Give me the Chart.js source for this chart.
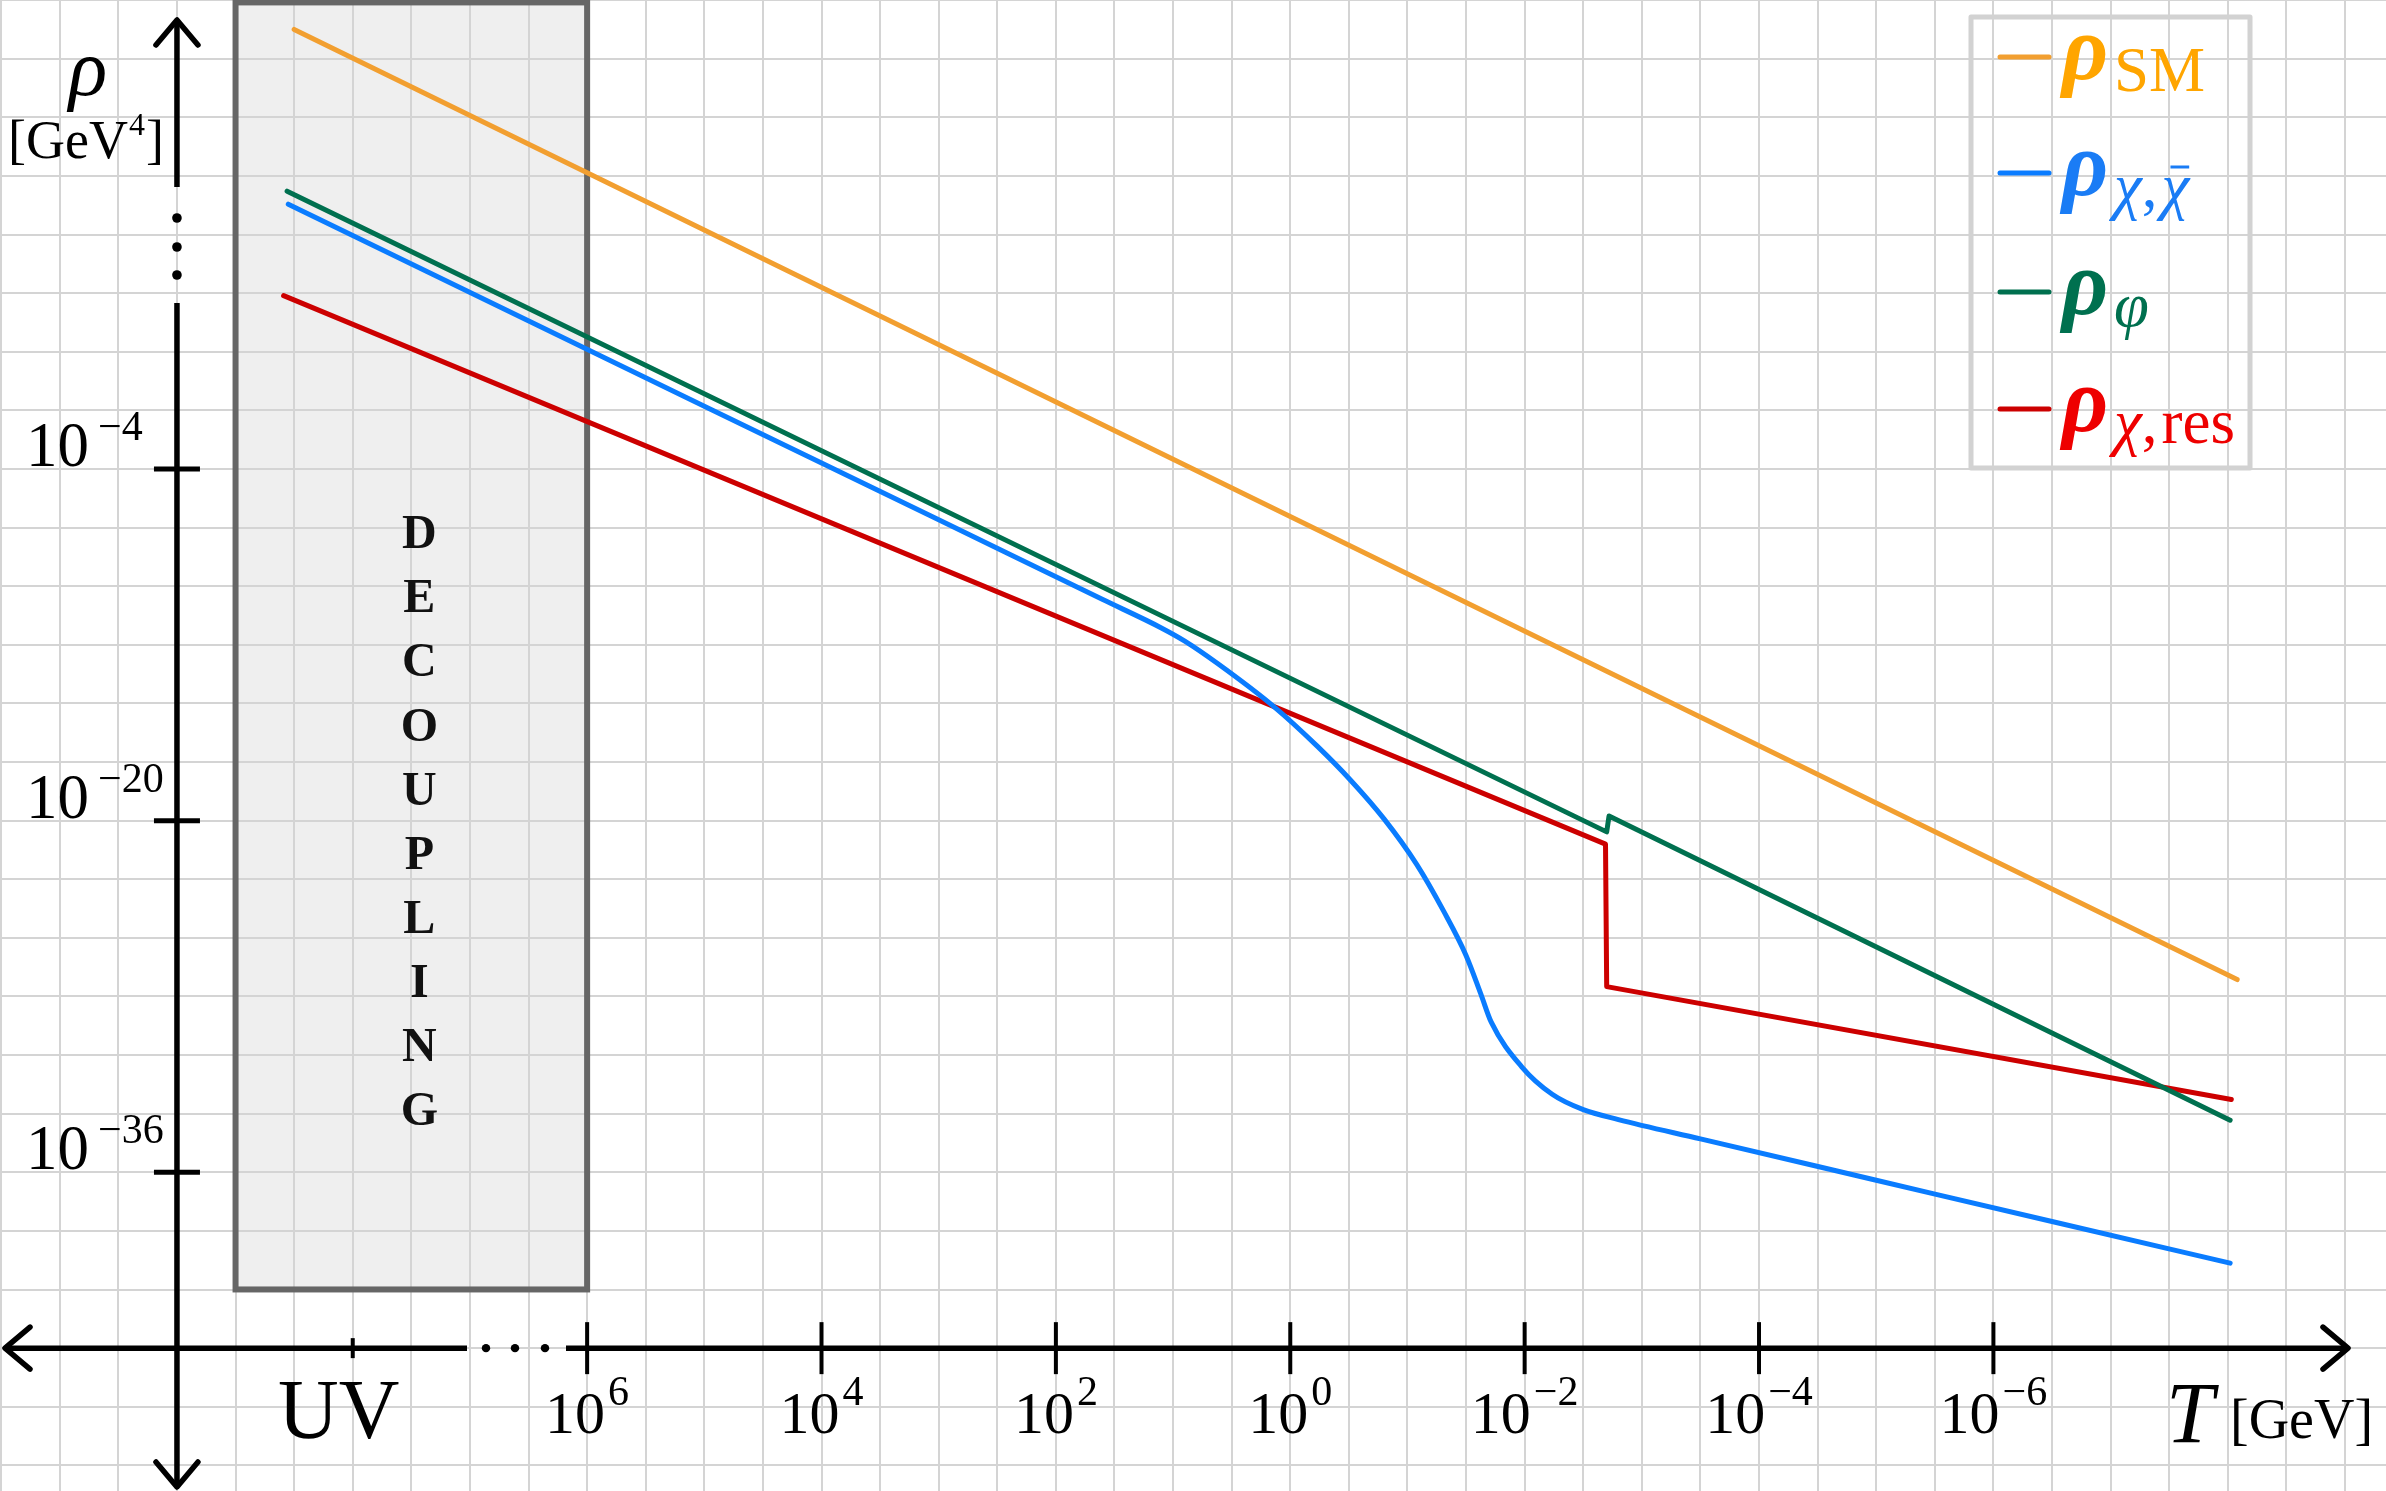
<!DOCTYPE html>
<html>
<head>
<meta charset="utf-8">
<script src="https://cdn.jsdelivr.net/npm/chart.js@4.4.1/dist/chart.umd.min.js"></script>
<style>
  html, body { margin: 0; padding: 0; background: #fff; }
  canvas { display: block; }
</style>
</head>
<body>
<canvas id="rho" width="2386" height="1491"></canvas>
<script>
// values are log10(T / GeV) and log10(rho / GeV^4)
const smT = [8.5, -8.08];
const smRho = [16.0, -27.23];

const chiT = [8.55, 5, 3, 1.6, 1.1, 0.9, 0.62, 0.14, -0.23, -0.515, -0.8, -1.08, -1.31, -1.5, -1.625, -1.715, -1.975, -2.235, -2.5, -2.8, -3.5, -5, -6.5, -8.02];
const chiRho = [8.05, -1.14, -6.31, -9.94, -11.23, -11.83, -12.85, -14.81, -16.61, -18.16, -19.92, -22.0, -24.13, -26.13, -27.87, -29.17, -31.2, -32.45, -33.15, -33.6, -34.48, -36.36, -38.24, -40.13];

const phiT = [8.56, -2.7, -2.72, -8.02];
const phiRho = [8.64, -20.51, -19.79, -33.63];

const resT = [8.59, -2.69, -2.7, -8.03];
const resRho = [3.89, -21.07, -27.55, -32.69];

const xTicks = [6, 4, 2, 0, -2, -4, -6];
const yTicks = [-4, -20, -36];
const uvT = 8;

// decoupling band and axis origin
const boxT = [9.0, 6.0];
const boxRho = [-41.33, 17.23];
const axisT = 9.5;
const axisRho = -44;

const seriesLabels = ["ρ_SM", "ρ_χ,χ̄", "ρ_φ", "ρ_χ,res"];
// subscript pieces: [text, style] with i = italic, b = bar over it
const legendSubs = [
  [["SM", ""]],
  [["χ", "i"], [",", ""], ["χ", "ib"]],
  [["φ", "i"]],
  [["χ", "i"], [",", ""], ["res", ""]],
];
const lineColors = ["#f29f30", "#0a7cff", "#00704f", "#cc0000"];
const textColors = ["#ffa500", "#1a7cf5", "#00704f", "#ee0000"];

const gridX = [];
for (let v = -9; v <= 11; v += 0.5) gridX.push(v);
const gridY = [];
for (let k = -2; k <= 23; k++) gridY.push(axisRho + k * 8 / 3);

const pts = (xs, ys) => xs.map((v, i) => ({ x: v, y: ys[i] }));
const SERIF = '"Liberation Serif", "DejaVu Serif", serif';

function seg(ctx, x1, y1, x2, y2) {
  ctx.beginPath(); ctx.moveTo(x1, y1); ctx.lineTo(x2, y2); ctx.stroke();
}
function dot(ctx, x, y, r) {
  ctx.beginPath(); ctx.arc(x, y, r, 0, Math.PI * 2); ctx.fill();
}
function arrow(ctx, tx, ty, dx, dy) {
  const len = 25, half = 21;
  ctx.beginPath();
  ctx.moveTo(tx - dx * len - dy * half, ty - dy * len + dx * half);
  ctx.lineTo(tx, ty);
  ctx.lineTo(tx - dx * len + dy * half, ty - dy * len - dx * half);
  ctx.stroke();
}
function pow10(ctx, exp, x, base, big, small, rise, gap, centered) {
  ctx.font = big + 'px ' + SERIF;
  const w1 = ctx.measureText('10').width;
  ctx.font = small + 'px ' + SERIF;
  const w2 = ctx.measureText(exp).width;
  const left = centered ? x - (w1 + gap + w2) / 2 : x;
  ctx.font = big + 'px ' + SERIF;
  ctx.fillText('10', left, base);
  ctx.font = small + 'px ' + SERIF;
  ctx.fillText(exp, left + w1 + gap, base - rise);
}

const sketch = {
  id: 'sketch',
  beforeDraw(chart) {
    const { ctx, scales: { x, y } } = chart;
    const l = x.getPixelForValue(boxT[0]), r = x.getPixelForValue(boxT[1]);
    const t = y.getPixelForValue(boxRho[1]), b = y.getPixelForValue(boxRho[0]);
    ctx.save();
    ctx.fillStyle = '#efefef';
    ctx.fillRect(l, t, r - l, b - t);
    ctx.restore();
  },
  beforeDatasetsDraw(chart) {
    const { ctx, scales: { x, y } } = chart;
    const l = x.getPixelForValue(boxT[0]), r = x.getPixelForValue(boxT[1]);
    const t = y.getPixelForValue(boxRho[1]), b = y.getPixelForValue(boxRho[0]);
    ctx.save();
    ctx.strokeStyle = '#666';
    ctx.lineWidth = 6;
    ctx.strokeRect(l, t, r - l, b - t);

    // DECOUPLING, letter by letter, centred on the 10^-20 level
    const word = 'DECOUPLING';
    const cx = (l + r) / 2 + 8;
    const cy = y.getPixelForValue(-20);
    const step = 64.1;
    ctx.fillStyle = '#111';
    ctx.font = 'bold 48px ' + SERIF;
    ctx.textAlign = 'center';
    ctx.textBaseline = 'alphabetic';
    for (let i = 0; i < word.length; i++) {
      const my = cy + (i - (word.length - 1) / 2) * step;
      ctx.fillText(word[i], cx, my + 16);
    }
    ctx.restore();
  },
  afterDatasetsDraw(chart) {
    const { ctx, scales: { x, y } } = chart;
    const W = chart.width, H = chart.height;
    const ox = x.getPixelForValue(axisT), oy = y.getPixelForValue(axisRho);
    ctx.save();
    ctx.strokeStyle = '#000';
    ctx.fillStyle = '#000';
    ctx.lineWidth = 5.5;
    ctx.lineCap = 'butt';

    // vertical axis with a break
    seg(ctx, ox, 22, ox, 187);
    seg(ctx, ox, 303, ox, H - 5);
    [218, 247, 275].forEach(v => dot(ctx, ox, v, 4.8));
    // horizontal axis with a break
    seg(ctx, 6, oy, 467, oy);
    seg(ctx, 566, oy, W - 40, oy);
    [486, 515, 545].forEach(v => dot(ctx, v, oy, 4.2));

    ctx.lineCap = 'round';
    ctx.lineJoin = 'round';
    arrow(ctx, ox, 20, 0, -1);
    arrow(ctx, ox, H - 4, 0, 1);
    arrow(ctx, 5, oy, -1, 0);
    arrow(ctx, W - 38, oy, 1, 0);

    // ticks
    ctx.lineCap = 'butt';
    ctx.lineWidth = 4;
    xTicks.forEach(v => {
      const px = x.getPixelForValue(v);
      seg(ctx, px, oy - 26, px, oy + 26);
    });
    const uvx = x.getPixelForValue(uvT);
    seg(ctx, uvx, oy - 10, uvx, oy + 10);
    ctx.lineWidth = 5;
    yTicks.forEach(v => {
      const py = y.getPixelForValue(v);
      seg(ctx, ox - 23, py, ox + 23, py);
    });

    // tick labels
    ctx.textBaseline = 'alphabetic';
    ctx.textAlign = 'left';
    xTicks.forEach(v => {
      const e = (v < 0 ? '−' : '') + Math.abs(v);
      pow10(ctx, e, x.getPixelForValue(v), oy + 85, 60, 42, 28, 3, true);
    });
    yTicks.forEach(v => {
      const e = '−' + Math.abs(v);
      pow10(ctx, e, 26, y.getPixelForValue(v) - 3, 63, 42, 26, 9, false);
    });
    ctx.textAlign = 'center';
    ctx.font = '84px ' + SERIF;
    ctx.fillText('UV', uvx - 14, oy + 90);

    // axis titles
    ctx.font = 'italic 80px ' + SERIF;
    ctx.fillText('ρ', 88, 95);
    ctx.textAlign = 'left';
    ctx.font = '54px ' + SERIF;
    const wG = ctx.measureText('[GeV').width;
    ctx.font = '32px ' + SERIF;
    const w4 = ctx.measureText('4').width;
    ctx.font = '54px ' + SERIF;
    const wB = ctx.measureText(']').width;
    let lx = 86 - (wG + w4 + 2 + wB) / 2;
    ctx.fillText('[GeV', lx, 158);
    ctx.font = '32px ' + SERIF;
    ctx.fillText('4', lx + wG + 1, 135);
    ctx.font = '54px ' + SERIF;
    ctx.fillText(']', lx + wG + w4 + 2, 158);

    ctx.font = 'italic 86px ' + SERIF;
    ctx.fillText('T', 2166, 1442);
    ctx.font = '56px ' + SERIF;
    ctx.fillText('[GeV]', 2230, 1438);

    // legend
    ctx.strokeStyle = '#d2d2d2';
    ctx.lineWidth = 5;
    ctx.strokeRect(1971, 17, 279, 451);
    const rows = [57, 173, 292, 409];
    chart.data.datasets.forEach((ds, i) => {
      const ry = rows[i];
      ctx.strokeStyle = ds.borderColor;
      ctx.lineWidth = 5;
      ctx.lineCap = 'round';
      seg(ctx, 2000, ry, 2049, ry);
      ctx.fillStyle = textColors[i];
      ctx.font = 'italic bold 90px ' + SERIF;
      ctx.fillText('ρ', 2062, ry + 22);
      let sx = 2114;
      const sb = ry + 34;
      legendSubs[i].forEach(([txt, st]) => {
        ctx.font = (st.includes('i') ? 'italic ' : '') + '63px ' + SERIF;
        const w = ctx.measureText(txt).width;
        ctx.fillText(txt, sx, sb);
        if (st.includes('b')) {
          ctx.strokeStyle = textColors[i];
          ctx.lineWidth = 3;
          ctx.lineCap = 'butt';
          seg(ctx, sx + 9, sb - 40, sx + w, sb - 40);
        }
        sx += w + (txt === ',' ? 4 : 0);
      });
    });
    ctx.restore();
  }
};

const config = {
  type: 'line',
  data: {
    datasets: [
      { label: seriesLabels[0], data: pts(smT, smRho), borderColor: lineColors[0] },
      { label: seriesLabels[1], data: pts(chiT, chiRho), borderColor: lineColors[1], cubicInterpolationMode: 'monotone' },
      { label: seriesLabels[2], data: pts(phiT, phiRho), borderColor: lineColors[2] },
      { label: seriesLabels[3], data: pts(resT, resRho), borderColor: lineColors[3] },
    ],
  },
  options: {
    responsive: false,
    animation: false,
    devicePixelRatio: 1,
    events: [],
    layout: { padding: 0 },
    elements: {
      point: { radius: 0 },
      line: { borderWidth: 5, tension: 0, borderCapStyle: 'round', borderJoinStyle: 'round', fill: false },
    },
    scales: {
      x: {
        type: 'linear',
        reverse: true,
        min: -9.35,
        max: 11.01,
        afterBuildTicks: s => { s.ticks = gridX.map(v => ({ value: v })); },
        afterFit: s => { s.height = 0; },
        ticks: { display: false },
        grid: { color: '#d4d4d4', lineWidth: 2, drawTicks: false },
        border: { display: false },
      },
      y: {
        type: 'linear',
        min: -50.5,
        max: 17.34,
        afterBuildTicks: s => { s.ticks = gridY.map(v => ({ value: v })); },
        afterFit: s => { s.width = 0; },
        ticks: { display: false },
        grid: { color: '#d4d4d4', lineWidth: 2, drawTicks: false },
        border: { display: false },
      },
    },
    plugins: {
      legend: { display: false },
      tooltip: { enabled: false },
    },
  },
  plugins: [sketch],
};

const rhoChart = new Chart(document.getElementById('rho'), config);
</script>
</body>
</html>
